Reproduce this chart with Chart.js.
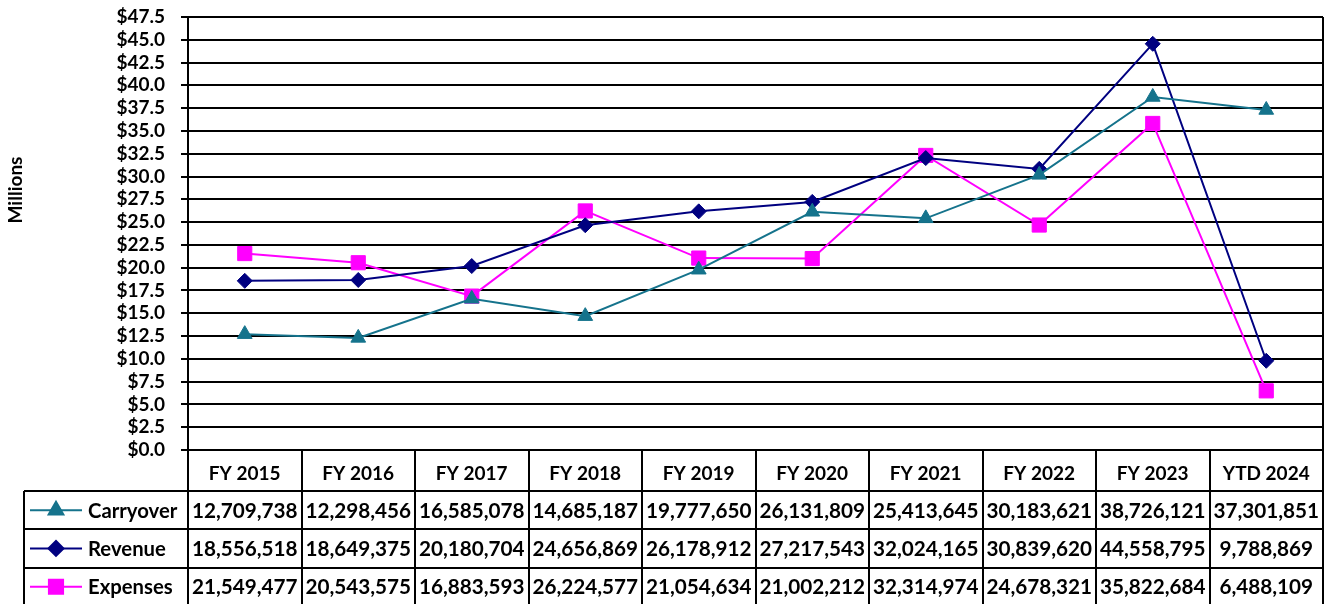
<!DOCTYPE html>
<html>
<head>
<meta charset="utf-8">
<script src="https://cdn.jsdelivr.net/npm/chart.js@4.4.1/dist/chart.umd.min.js"></script>
<style>
    html, body { margin: 0; padding: 0; background: #fff; }
    #wrap { width: 1328px; height: 604px; position: relative; }
</style>
</head>
<body>
<div id="wrap"><canvas id="fund-chart"></canvas></div>
<script>
const years = ['FY 2015', 'FY 2016', 'FY 2017', 'FY 2018', 'FY 2019', 'FY 2020', 'FY 2021', 'FY 2022', 'FY 2023', 'YTD 2024'];
const carryover = [12709738, 12298456, 16585078, 14685187, 19777650, 26131809, 25413645, 30183621, 38726121, 37301851];
const revenue = [18556518, 18649375, 20180704, 24656869, 26178912, 27217543, 32024165, 30839620, 44558795, 9788869];
const expenses = [21549477, 20543575, 16883593, 26224577, 21054634, 21002212, 32314974, 24678321, 35822684, 6488109];
const yMax = 47.5;
const yStep = 2.5;

const FONT = 'Lato, "DejaVu Sans", sans-serif';
const HEADER_H = 41;
const ROW_H = 38.3;
const LEGEND_LEFT = 24;

const series = [
    { label: 'Carryover', data: carryover, color: '#15738C', style: 'triangle', radius: 8.5 },
    { label: 'Revenue', data: revenue, color: '#000080', style: 'rectRot', radius: 7.5 },
    { label: 'Expenses', data: expenses, color: '#FF00FF', style: 'rect', radius: 10 }
];

// таблица данных под графиком + подпись оси
const tablePlugin = {
    id: 'dataTable',
    afterDraw(chart) {
        const ctx = chart.ctx;
        const area = chart.chartArea;
        const xs = chart.scales.x;
        const half = (xs.getPixelForTick(1) - xs.getPixelForTick(0)) / 2;
        const top = area.bottom;
        const headBottom = top + HEADER_H;
        const bottom = chart.height + 2;

        ctx.save();
        ctx.strokeStyle = '#000';
        ctx.lineWidth = 2;
        ctx.beginPath();
        // правая граница
        ctx.moveTo(area.right, area.top);
        ctx.lineTo(area.right, bottom);
        // вертикальные линии столбцов
        for (let i = 0; i < years.length; i++) {
            const bx = Math.round(xs.getPixelForTick(i) - half);
            ctx.moveTo(bx, top);
            ctx.lineTo(bx, bottom);
        }
        ctx.moveTo(LEGEND_LEFT, headBottom);
        ctx.lineTo(LEGEND_LEFT, bottom);
        for (let r = 0; r < series.length; r++) {
            const ry = Math.round(headBottom + r * ROW_H);
            ctx.moveTo(LEGEND_LEFT, ry);
            ctx.lineTo(area.right, ry);
        }
        ctx.stroke();

        ctx.textBaseline = 'middle';
        series.forEach((s, r) => {
            const cy = headBottom + r * ROW_H + ROW_H / 2;
            ctx.textAlign = 'center';
            ctx.fillStyle = '#000';
            ctx.font = 'bold 20.7px ' + FONT;
            s.data.forEach((v, i) => {
                ctx.fillText(v.toLocaleString('en-US'), xs.getPixelForTick(i), cy + 1);
            });
            // легенда в строке
            ctx.strokeStyle = s.color;
            ctx.lineWidth = 2;
            ctx.beginPath();
            ctx.moveTo(30, cy);
            ctx.lineTo(82, cy);
            ctx.stroke();
            ctx.fillStyle = s.color;
            Chart.helpers.drawPoint(ctx, { pointStyle: s.style, radius: s.radius, borderWidth: 1, rotation: 0 }, 56, cy);
            ctx.fill();
            ctx.fillStyle = '#000';
            ctx.textAlign = 'left';
            ctx.font = 'bold 20.3px ' + FONT;
            ctx.fillText(s.label, 88, cy + 1);
        });

        ctx.translate(16, 190);
        ctx.rotate(-Math.PI / 2);
        ctx.textAlign = 'center';
        ctx.font = 'bold 19px ' + FONT;
        ctx.fillText('Millions', 0, 0);
        ctx.restore();
    }
};

new Chart(document.getElementById('fund-chart'), {
    type: 'line',
    data: {
        labels: years,
        datasets: series.map(s => ({
            label: s.label,
            data: s.data.map(v => v / 1e6),
            borderColor: s.color,
            backgroundColor: s.color,
            pointBackgroundColor: s.color,
            pointBorderColor: s.color,
            pointStyle: s.style,
            pointRadius: s.radius,
            pointBorderWidth: 1,
            borderWidth: 2,
            tension: 0,
            fill: false,
            clip: false
        }))
    },
    options: {
        responsive: true,
        maintainAspectRatio: false,
        animation: false,
        layout: {
            autoPadding: false,
            padding: { top: 17, right: 5, bottom: 604 - 450 - HEADER_H, left: 0 }
        },
        plugins: {
            legend: { display: false },
            tooltip: { enabled: false }
        },
        scales: {
            x: {
                offset: true,
                grid: { display: false, drawTicks: false },
                border: { display: false },
                ticks: {
                    color: '#000',
                    padding: 12,
                    maxRotation: 0,
                    font: { family: FONT, size: 19, weight: 'bold' }
                },
                afterFit(scale) { scale.height = HEADER_H; }
            },
            y: {
                min: 0,
                max: yMax,
                grid: { color: '#000', lineWidth: 2, tickLength: 7 },
                border: { display: true, color: '#000', width: 2 },
                ticks: {
                    stepSize: yStep,
                    autoSkip: false,
                    color: '#000',
                    padding: 16,
                    // маленький lineHeight, чтобы подписи не раздували верхний отступ
                    font: { family: FONT, size: 19, weight: 'bold', lineHeight: 0.05 },
                    callback: v => '$' + v.toFixed(1)
                },
                afterFit(scale) { scale.width = 188; }
            }
        }
    },
    plugins: [tablePlugin]
});
</script>
</body>
</html>
